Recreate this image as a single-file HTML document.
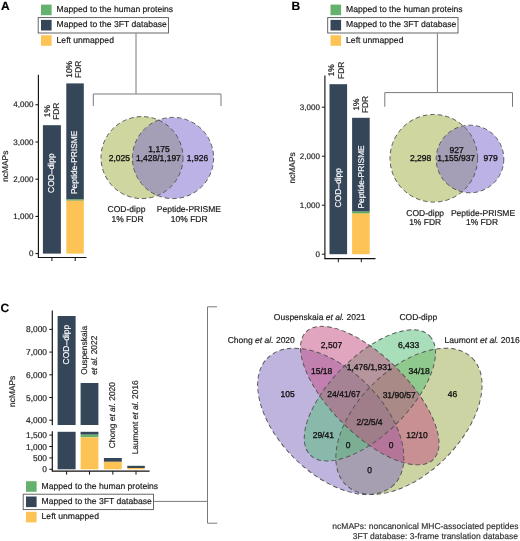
<!DOCTYPE html>
<html><head><meta charset="utf-8"><style>
html,body{margin:0;padding:0;background:#fff;}
body{width:520px;height:541px;overflow:hidden;}
svg{display:block;font-family:"Liberation Sans", sans-serif;text-rendering:geometricPrecision;filter:blur(0.3px);}

</style></head><body>
<svg width="520" height="541" viewBox="0 0 520 541">
<rect x="0" y="0" width="520" height="541" fill="#fff"/>
<text x="1" y="9.6" font-size="12" text-anchor="start" fill="#000" stroke="#000" stroke-width="0.18" font-weight="bold">A</text>
<text x="291.4" y="9.6" font-size="12" text-anchor="start" fill="#000" stroke="#000" stroke-width="0.18" font-weight="bold">B</text>
<text x="0.6" y="312.2" font-size="12" text-anchor="start" fill="#000" stroke="#000" stroke-width="0.18" font-weight="bold">C</text>
<rect x="41" y="4.6" width="10.6" height="10.6" fill="#64b26e"/>
<text x="56.6" y="12.149999999999999" font-size="8.6" text-anchor="start" fill="#1a1a1a" stroke="#1a1a1a" stroke-width="0.18" font-weight="normal">Mapped to the human proteins</text>
<rect x="41" y="19.9" width="10.6" height="10.6" fill="#344658"/>
<text x="56.6" y="27.45" font-size="8.6" text-anchor="start" fill="#1a1a1a" stroke="#1a1a1a" stroke-width="0.18" font-weight="normal">Mapped to the 3FT database</text>
<rect x="41" y="35.2" width="10.6" height="10.6" fill="#fdc455"/>
<text x="56.6" y="42.75" font-size="8.6" text-anchor="start" fill="#1a1a1a" stroke="#1a1a1a" stroke-width="0.18" font-weight="normal">Left unmapped</text>
<rect x="38.2" y="17.6" width="130.3" height="15.4" fill="none" stroke="#555" stroke-width="0.9"/>
<rect x="330.5" y="4.6" width="10.6" height="10.6" fill="#64b26e"/>
<text x="346.1" y="12.149999999999999" font-size="8.6" text-anchor="start" fill="#1a1a1a" stroke="#1a1a1a" stroke-width="0.18" font-weight="normal">Mapped to the human proteins</text>
<rect x="330.5" y="19.9" width="10.6" height="10.6" fill="#344658"/>
<text x="346.1" y="27.45" font-size="8.6" text-anchor="start" fill="#1a1a1a" stroke="#1a1a1a" stroke-width="0.18" font-weight="normal">Mapped to the 3FT database</text>
<rect x="330.5" y="35.2" width="10.6" height="10.6" fill="#fdc455"/>
<text x="346.1" y="42.75" font-size="8.6" text-anchor="start" fill="#1a1a1a" stroke="#1a1a1a" stroke-width="0.18" font-weight="normal">Left unmapped</text>
<rect x="327.7" y="17.6" width="130.3" height="15.4" fill="none" stroke="#555" stroke-width="0.9"/>
<rect x="26" y="481.2" width="10.6" height="10.6" fill="#64b26e"/>
<text x="41.6" y="488.75" font-size="8.6" text-anchor="start" fill="#1a1a1a" stroke="#1a1a1a" stroke-width="0.18" font-weight="normal">Mapped to the human proteins</text>
<rect x="26" y="496.5" width="10.6" height="10.6" fill="#344658"/>
<text x="41.6" y="504.05" font-size="8.6" text-anchor="start" fill="#1a1a1a" stroke="#1a1a1a" stroke-width="0.18" font-weight="normal">Mapped to the 3FT database</text>
<rect x="26" y="511.8" width="10.6" height="10.6" fill="#fdc455"/>
<text x="41.6" y="519.35" font-size="8.6" text-anchor="start" fill="#1a1a1a" stroke="#1a1a1a" stroke-width="0.18" font-weight="normal">Left unmapped</text>
<rect x="23.2" y="494.2" width="130.3" height="15.4" fill="none" stroke="#555" stroke-width="0.9"/>
<line x1="136" y1="33.5" x2="136" y2="94" stroke="#7a7a7a" stroke-width="1"/>
<polyline points="93.3,106 93.3,94 221,94 221,106" fill="none" stroke="#7a7a7a" stroke-width="1"/>
<line x1="437.4" y1="33.5" x2="437.4" y2="92.6" stroke="#7a7a7a" stroke-width="1"/>
<polyline points="384.8,106.8 384.8,92.6 512.5,92.6 512.5,106.8" fill="none" stroke="#7a7a7a" stroke-width="1"/>
<line x1="154" y1="501.4" x2="207.5" y2="501.4" stroke="#7a7a7a" stroke-width="1"/>
<polyline points="217,306.8 207.5,306.8 207.5,523.2 217.3,523.2" fill="none" stroke="#7a7a7a" stroke-width="1"/>
<line x1="38.4" y1="74.7" x2="38.4" y2="257.5" stroke="#111" stroke-width="1.15"/>
<line x1="37.9" y1="257.5" x2="86.5" y2="257.5" stroke="#111" stroke-width="1.2"/>
<line x1="35.4" y1="253.6" x2="38.4" y2="253.6" stroke="#111" stroke-width="1"/>
<text x="33.4" y="256.1" font-size="8.0" text-anchor="end" fill="#222" stroke="#222" stroke-width="0.18" font-weight="normal">0</text>
<line x1="35.4" y1="216.4" x2="38.4" y2="216.4" stroke="#111" stroke-width="1"/>
<text x="33.4" y="218.9" font-size="8.0" text-anchor="end" fill="#222" stroke="#222" stroke-width="0.18" font-weight="normal">1,000</text>
<line x1="35.4" y1="179.2" x2="38.4" y2="179.2" stroke="#111" stroke-width="1"/>
<text x="33.4" y="181.7" font-size="8.0" text-anchor="end" fill="#222" stroke="#222" stroke-width="0.18" font-weight="normal">2,000</text>
<line x1="35.4" y1="142.0" x2="38.4" y2="142.0" stroke="#111" stroke-width="1"/>
<text x="33.4" y="144.5" font-size="8.0" text-anchor="end" fill="#222" stroke="#222" stroke-width="0.18" font-weight="normal">3,000</text>
<line x1="35.4" y1="104.80000000000001" x2="38.4" y2="104.80000000000001" stroke="#111" stroke-width="1"/>
<text x="33.4" y="107.30000000000001" font-size="8.0" text-anchor="end" fill="#222" stroke="#222" stroke-width="0.18" font-weight="normal">4,000</text>
<line x1="51.9" y1="257.5" x2="51.9" y2="261.0" stroke="#111" stroke-width="1"/>
<line x1="75.2" y1="257.5" x2="75.2" y2="261.0" stroke="#111" stroke-width="1"/>
<rect x="42.9" y="125.2" width="18" height="128.39999999999998" fill="#344658"/>
<rect x="66.3" y="83.4" width="17.5" height="116.0" fill="#344658"/>
<rect x="66.3" y="199.4" width="17.5" height="1.3" fill="#5a9a58"/>
<rect x="66.3" y="200.7" width="17.5" height="52.900000000000006" fill="#fdc455"/>
<text x="8.2" y="166.2" font-size="8.4" text-anchor="middle" fill="#222" stroke="#222" stroke-width="0.18" font-weight="normal" transform="rotate(-90 8.2 166.2)">ncMAPs</text>
<text x="54.1" y="193" font-size="8.5" text-anchor="start" fill="#fff" stroke="#fff" stroke-width="0.18" font-weight="normal" transform="rotate(-90 54.1 193)">COD–dipp</text>
<text x="76.8" y="194" font-size="8.4" text-anchor="start" fill="#fff" stroke="#fff" stroke-width="0.18" font-weight="normal" transform="rotate(-90 76.8 194)">Peptide-PRISME</text>
<text x="49.825" y="111.2" font-size="8.4" text-anchor="middle" fill="#222" stroke="#222" stroke-width="0.18" font-weight="normal" transform="rotate(-90 49.825 111.2)">1%</text>
<text x="59.125" y="111.2" font-size="8.4" text-anchor="middle" fill="#222" stroke="#222" stroke-width="0.18" font-weight="normal" transform="rotate(-90 59.125 111.2)">FDR</text>
<text x="71.975" y="69.3" font-size="8.4" text-anchor="middle" fill="#222" stroke="#222" stroke-width="0.18" font-weight="normal" transform="rotate(-90 71.975 69.3)">10%</text>
<text x="81.275" y="69.3" font-size="8.4" text-anchor="middle" fill="#222" stroke="#222" stroke-width="0.18" font-weight="normal" transform="rotate(-90 81.275 69.3)">FDR</text>
<line x1="324.9" y1="75.4" x2="324.9" y2="258.7" stroke="#111" stroke-width="1.15"/>
<line x1="324.4" y1="258.7" x2="375.5" y2="258.7" stroke="#111" stroke-width="1.2"/>
<line x1="321.9" y1="254.2" x2="324.9" y2="254.2" stroke="#111" stroke-width="1"/>
<text x="319.9" y="257.4" font-size="8.0" text-anchor="end" fill="#222" stroke="#222" stroke-width="0.18" font-weight="normal">0</text>
<line x1="321.9" y1="205.2" x2="324.9" y2="205.2" stroke="#111" stroke-width="1"/>
<text x="319.9" y="208.39999999999998" font-size="8.0" text-anchor="end" fill="#222" stroke="#222" stroke-width="0.18" font-weight="normal">1,000</text>
<line x1="321.9" y1="156.2" x2="324.9" y2="156.2" stroke="#111" stroke-width="1"/>
<text x="319.9" y="159.39999999999998" font-size="8.0" text-anchor="end" fill="#222" stroke="#222" stroke-width="0.18" font-weight="normal">2,000</text>
<line x1="321.9" y1="107.19999999999999" x2="324.9" y2="107.19999999999999" stroke="#111" stroke-width="1"/>
<text x="319.9" y="110.39999999999999" font-size="8.0" text-anchor="end" fill="#222" stroke="#222" stroke-width="0.18" font-weight="normal">3,000</text>
<line x1="338.3" y1="258.7" x2="338.3" y2="262.2" stroke="#111" stroke-width="1"/>
<line x1="361.3" y1="258.7" x2="361.3" y2="262.2" stroke="#111" stroke-width="1"/>
<rect x="329.5" y="84.2" width="17.6" height="170.0" fill="#344658"/>
<rect x="352.1" y="117.8" width="17.6" height="93.8" fill="#344658"/>
<rect x="352.1" y="211.6" width="17.6" height="2.0" fill="#5ea85a"/>
<rect x="352.1" y="213.6" width="17.6" height="40.599999999999994" fill="#fdc455"/>
<text x="294.6" y="167.9" font-size="8.4" text-anchor="middle" fill="#222" stroke="#222" stroke-width="0.18" font-weight="normal" transform="rotate(-90 294.6 167.9)">ncMAPs</text>
<text x="341.2" y="207.6" font-size="8.5" text-anchor="start" fill="#fff" stroke="#fff" stroke-width="0.18" font-weight="normal" transform="rotate(-90 341.2 207.6)">COD–dipp</text>
<text x="364.0" y="208.6" font-size="8.4" text-anchor="start" fill="#fff" stroke="#fff" stroke-width="0.18" font-weight="normal" transform="rotate(-90 364.0 208.6)">Peptide-PRISME</text>
<text x="334.375" y="70.3" font-size="8.4" text-anchor="middle" fill="#222" stroke="#222" stroke-width="0.18" font-weight="normal" transform="rotate(-90 334.375 70.3)">1%</text>
<text x="343.67499999999995" y="70.3" font-size="8.4" text-anchor="middle" fill="#222" stroke="#222" stroke-width="0.18" font-weight="normal" transform="rotate(-90 343.67499999999995 70.3)">FDR</text>
<text x="358.675" y="104.5" font-size="8.4" text-anchor="middle" fill="#222" stroke="#222" stroke-width="0.18" font-weight="normal" transform="rotate(-90 358.675 104.5)">1%</text>
<text x="367.97499999999997" y="104.5" font-size="8.4" text-anchor="middle" fill="#222" stroke="#222" stroke-width="0.18" font-weight="normal" transform="rotate(-90 367.97499999999997 104.5)">FDR</text>
<line x1="52.3" y1="310.4" x2="52.3" y2="425.3" stroke="#111" stroke-width="1.15"/>
<line x1="52.3" y1="431.3" x2="52.3" y2="471.2" stroke="#111" stroke-width="1.15"/>
<line x1="51.8" y1="471.2" x2="149.6" y2="471.2" stroke="#111" stroke-width="1.2"/>
<line x1="49.3" y1="420.2" x2="52.3" y2="420.2" stroke="#111" stroke-width="1"/>
<text x="47.0" y="423.2" font-size="8.4" text-anchor="end" fill="#222" stroke="#222" stroke-width="0.18" font-weight="normal">4,000</text>
<line x1="49.3" y1="397.5" x2="52.3" y2="397.5" stroke="#111" stroke-width="1"/>
<text x="47.0" y="400.5" font-size="8.4" text-anchor="end" fill="#222" stroke="#222" stroke-width="0.18" font-weight="normal">5,000</text>
<line x1="49.3" y1="374.79999999999995" x2="52.3" y2="374.79999999999995" stroke="#111" stroke-width="1"/>
<text x="47.0" y="377.79999999999995" font-size="8.4" text-anchor="end" fill="#222" stroke="#222" stroke-width="0.18" font-weight="normal">6,000</text>
<line x1="49.3" y1="352.09999999999997" x2="52.3" y2="352.09999999999997" stroke="#111" stroke-width="1"/>
<text x="47.0" y="355.09999999999997" font-size="8.4" text-anchor="end" fill="#222" stroke="#222" stroke-width="0.18" font-weight="normal">7,000</text>
<line x1="49.3" y1="329.4" x2="52.3" y2="329.4" stroke="#111" stroke-width="1"/>
<text x="47.0" y="332.4" font-size="8.4" text-anchor="end" fill="#222" stroke="#222" stroke-width="0.18" font-weight="normal">8,000</text>
<line x1="49.3" y1="469.3" x2="52.3" y2="469.3" stroke="#111" stroke-width="1"/>
<text x="47.0" y="472.3" font-size="8.4" text-anchor="end" fill="#222" stroke="#222" stroke-width="0.18" font-weight="normal">0</text>
<line x1="49.3" y1="457.90000000000003" x2="52.3" y2="457.90000000000003" stroke="#111" stroke-width="1"/>
<text x="47.0" y="460.90000000000003" font-size="8.4" text-anchor="end" fill="#222" stroke="#222" stroke-width="0.18" font-weight="normal">500</text>
<line x1="49.3" y1="446.5" x2="52.3" y2="446.5" stroke="#111" stroke-width="1"/>
<text x="47.0" y="449.5" font-size="8.4" text-anchor="end" fill="#222" stroke="#222" stroke-width="0.18" font-weight="normal">1,000</text>
<line x1="49.3" y1="435.1" x2="52.3" y2="435.1" stroke="#111" stroke-width="1"/>
<text x="47.0" y="438.1" font-size="8.4" text-anchor="end" fill="#222" stroke="#222" stroke-width="0.18" font-weight="normal">1,500</text>
<line x1="66.6" y1="471.2" x2="66.6" y2="474.6" stroke="#111" stroke-width="1"/>
<line x1="89.5" y1="471.2" x2="89.5" y2="474.6" stroke="#111" stroke-width="1"/>
<line x1="112.85" y1="471.2" x2="112.85" y2="474.6" stroke="#111" stroke-width="1"/>
<line x1="136" y1="471.2" x2="136" y2="474.6" stroke="#111" stroke-width="1"/>
<rect x="57.6" y="316" width="18" height="109" fill="#344658"/>
<rect x="57.6" y="431.8" width="18" height="37.5" fill="#344658"/>
<rect x="80.6" y="383" width="17.8" height="42" fill="#344658"/>
<rect x="80.6" y="431.8" width="17.8" height="2.9" fill="#344658"/>
<rect x="80.6" y="434.7" width="17.8" height="2.6" fill="#64b26e"/>
<rect x="80.6" y="437.3" width="17.8" height="32.0" fill="#fdc455"/>
<rect x="103.9" y="458" width="17.9" height="3.8" fill="#344658"/>
<rect x="103.9" y="461.8" width="17.9" height="7.5" fill="#fdc455"/>
<rect x="127.3" y="465.8" width="17.5" height="2.2" fill="#344658"/>
<rect x="127.3" y="468" width="17.5" height="1.3000000000000114" fill="#fdc455"/>
<text x="15.2" y="391.3" font-size="8.4" text-anchor="middle" fill="#222" stroke="#222" stroke-width="0.18" font-weight="normal" transform="rotate(-90 15.2 391.3)">ncMAPs</text>
<text x="69.3" y="364.4" font-size="8.5" text-anchor="start" fill="#fff" stroke="#fff" stroke-width="0.18" font-weight="normal" transform="rotate(-90 69.3 364.4)">COD–dipp</text>
<text x="86.8" y="374.8" font-size="8.4" text-anchor="start" fill="#222" stroke="#222" stroke-width="0.18" font-weight="normal" transform="rotate(-90 86.8 374.8)">Ouspenskaia</text>
<text x="96.8" y="374.8" font-size="8.4" text-anchor="start" fill="#222" stroke="#222" stroke-width="0.18" font-weight="normal" transform="rotate(-90 96.8 374.8)"><tspan font-style="italic">et al.</tspan> 2022</text>
<text x="114.6" y="448.2" font-size="8.4" text-anchor="start" fill="#222" stroke="#222" stroke-width="0.18" font-weight="normal" transform="rotate(-90 114.6 448.2)">Chong <tspan font-style="italic">et al.</tspan> 2020</text>
<text x="138.0" y="454.3" font-size="8.4" text-anchor="start" fill="#222" stroke="#222" stroke-width="0.18" font-weight="normal" transform="rotate(-90 138.0 454.3)">Laumont <tspan font-style="italic">et al.</tspan> 2016</text>
<circle cx="142" cy="157.6" r="41" fill="#a0ae42" fill-opacity="0.5"/>
<circle cx="173" cy="158" r="40.6" fill="#7a66cc" fill-opacity="0.5"/>
<circle cx="142" cy="157.6" r="41" fill="none" stroke="#555" stroke-width="0.95" stroke-dasharray="4.5,3"/>
<circle cx="173" cy="158" r="40.6" fill="none" stroke="#555" stroke-width="0.95" stroke-dasharray="4.5,3"/>
<text x="119.4" y="160.7" font-size="8.5" text-anchor="middle" fill="#111" stroke="#111" stroke-width="0.32" font-weight="normal">2,025</text>
<text x="159" y="152.0" font-size="8.5" text-anchor="middle" fill="#111" stroke="#111" stroke-width="0.32" font-weight="normal">1,175</text>
<text x="158.4" y="160.7" font-size="8.5" text-anchor="middle" fill="#111" stroke="#111" stroke-width="0.32" font-weight="normal">1,428/1,197</text>
<text x="197.5" y="160.7" font-size="8.5" text-anchor="middle" fill="#111" stroke="#111" stroke-width="0.32" font-weight="normal">1,926</text>
<text x="126.5" y="211.6" font-size="8.5" text-anchor="middle" fill="#1a1a1a" stroke="#1a1a1a" stroke-width="0.18" font-weight="normal">COD-dipp</text>
<text x="127.5" y="222.2" font-size="8.5" text-anchor="middle" fill="#1a1a1a" stroke="#1a1a1a" stroke-width="0.18" font-weight="normal">1% FDR</text>
<text x="188.9" y="211.6" font-size="8.5" text-anchor="middle" fill="#1a1a1a" stroke="#1a1a1a" stroke-width="0.18" font-weight="normal">Peptide-PRISME</text>
<text x="189.2" y="222" font-size="8.5" text-anchor="middle" fill="#1a1a1a" stroke="#1a1a1a" stroke-width="0.18" font-weight="normal">10% FDR</text>
<circle cx="433.8" cy="158.3" r="43.8" fill="#a0ae42" fill-opacity="0.5"/>
<circle cx="470" cy="159" r="33.8" fill="#7a66cc" fill-opacity="0.5"/>
<circle cx="433.8" cy="158.3" r="43.8" fill="none" stroke="#555" stroke-width="0.95" stroke-dasharray="4.5,3"/>
<circle cx="470" cy="159" r="33.8" fill="none" stroke="#555" stroke-width="0.95" stroke-dasharray="4.5,3"/>
<text x="420.6" y="160.7" font-size="8.5" text-anchor="middle" fill="#111" stroke="#111" stroke-width="0.32" font-weight="normal">2,298</text>
<text x="456.6" y="152.7" font-size="8.5" text-anchor="middle" fill="#111" stroke="#111" stroke-width="0.32" font-weight="normal">927</text>
<text x="456.2" y="160.7" font-size="8.5" text-anchor="middle" fill="#111" stroke="#111" stroke-width="0.32" font-weight="normal">1,155/937</text>
<text x="490.6" y="160.7" font-size="8.5" text-anchor="middle" fill="#111" stroke="#111" stroke-width="0.32" font-weight="normal">979</text>
<text x="425.2" y="215.5" font-size="8.5" text-anchor="middle" fill="#1a1a1a" stroke="#1a1a1a" stroke-width="0.18" font-weight="normal">COD-dipp</text>
<text x="425.2" y="225" font-size="8.5" text-anchor="middle" fill="#1a1a1a" stroke="#1a1a1a" stroke-width="0.18" font-weight="normal">1% FDR</text>
<text x="483" y="215.5" font-size="8.5" text-anchor="middle" fill="#1a1a1a" stroke="#1a1a1a" stroke-width="0.18" font-weight="normal">Peptide-PRISME</text>
<text x="482" y="225" font-size="8.5" text-anchor="middle" fill="#1a1a1a" stroke="#1a1a1a" stroke-width="0.18" font-weight="normal">1% FDR</text>
<ellipse cx="408.95" cy="421.35" rx="89.5" ry="51.8" transform="rotate(-45 408.95 421.35)" fill="#9ba949" fill-opacity="0.5"/>
<ellipse cx="330.75" cy="421.35" rx="89.5" ry="51.8" transform="rotate(45 330.75 421.35)" fill="#7d69bd" fill-opacity="0.5"/>
<ellipse cx="369.9" cy="395.4" rx="84.3" ry="38.8" transform="rotate(-45 369.9 395.4)" fill="#51bd75" fill-opacity="0.5"/>
<ellipse cx="369.75" cy="395.6" rx="90.1" ry="38.5" transform="rotate(45 369.75 395.6)" fill="#c34b80" fill-opacity="0.5"/>
<ellipse cx="408.95" cy="421.35" rx="89.5" ry="51.8" transform="rotate(-45 408.95 421.35)" fill="none" stroke="#555" stroke-width="0.95" stroke-dasharray="4.5,3"/>
<ellipse cx="330.75" cy="421.35" rx="89.5" ry="51.8" transform="rotate(45 330.75 421.35)" fill="none" stroke="#555" stroke-width="0.95" stroke-dasharray="4.5,3"/>
<ellipse cx="369.9" cy="395.4" rx="84.3" ry="38.8" transform="rotate(-45 369.9 395.4)" fill="none" stroke="#555" stroke-width="0.95" stroke-dasharray="4.5,3"/>
<ellipse cx="369.75" cy="395.6" rx="90.1" ry="38.5" transform="rotate(45 369.75 395.6)" fill="none" stroke="#555" stroke-width="0.95" stroke-dasharray="4.5,3"/>
<text x="287.6" y="396.90000000000003" font-size="8.5" text-anchor="middle" fill="#111" stroke="#111" stroke-width="0.32" font-weight="normal">105</text>
<text x="331.5" y="347.5" font-size="8.5" text-anchor="middle" fill="#111" stroke="#111" stroke-width="0.32" font-weight="normal">2,507</text>
<text x="321.6" y="373.6" font-size="8.5" text-anchor="middle" fill="#111" stroke="#111" stroke-width="0.32" font-weight="normal">15/18</text>
<text x="343.9" y="397.1" font-size="8.5" text-anchor="middle" fill="#111" stroke="#111" stroke-width="0.32" font-weight="normal">24/41/67</text>
<text x="369.2" y="369.5" font-size="8.5" text-anchor="middle" fill="#111" stroke="#111" stroke-width="0.32" font-weight="normal">1,476/1,931</text>
<text x="408.6" y="347.7" font-size="8.5" text-anchor="middle" fill="#111" stroke="#111" stroke-width="0.32" font-weight="normal">6,433</text>
<text x="419.2" y="373.6" font-size="8.5" text-anchor="middle" fill="#111" stroke="#111" stroke-width="0.32" font-weight="normal">34/18</text>
<text x="399.2" y="398.3" font-size="8.5" text-anchor="middle" fill="#111" stroke="#111" stroke-width="0.32" font-weight="normal">31/90/57</text>
<text x="452.6" y="396.7" font-size="8.5" text-anchor="middle" fill="#111" stroke="#111" stroke-width="0.32" font-weight="normal">46</text>
<text x="369.6" y="424.8" font-size="8.5" text-anchor="middle" fill="#111" stroke="#111" stroke-width="0.32" font-weight="normal">2/2/5/4</text>
<text x="323.3" y="437.5" font-size="8.5" text-anchor="middle" fill="#111" stroke="#111" stroke-width="0.32" font-weight="normal">29/41</text>
<text x="348" y="447.90000000000003" font-size="8.5" text-anchor="middle" fill="#111" stroke="#111" stroke-width="0.32" font-weight="normal">0</text>
<text x="391.2" y="447.90000000000003" font-size="8.5" text-anchor="middle" fill="#111" stroke="#111" stroke-width="0.32" font-weight="normal">0</text>
<text x="369.7" y="472.8" font-size="8.5" text-anchor="middle" fill="#111" stroke="#111" stroke-width="0.32" font-weight="normal">0</text>
<text x="417" y="437.5" font-size="8.5" text-anchor="middle" fill="#111" stroke="#111" stroke-width="0.32" font-weight="normal">12/10</text>
<text x="227.7" y="342.5" font-size="8.5" text-anchor="start" fill="#1a1a1a" stroke="#1a1a1a" stroke-width="0.18" font-weight="normal">Chong <tspan font-style="italic">et al.</tspan> 2020</text>
<text x="273.8" y="320" font-size="8.5" text-anchor="start" fill="#1a1a1a" stroke="#1a1a1a" stroke-width="0.18" font-weight="normal">Ouspenskaia <tspan font-style="italic">et al.</tspan> 2021</text>
<text x="418.3" y="320" font-size="8.5" text-anchor="middle" fill="#1a1a1a" stroke="#1a1a1a" stroke-width="0.18" font-weight="normal">COD-dipp</text>
<text x="444.6" y="342.5" font-size="8.5" text-anchor="start" fill="#1a1a1a" stroke="#1a1a1a" stroke-width="0.18" font-weight="normal">Laumont <tspan font-style="italic">et al.</tspan> 2016</text>
<text x="518.5" y="529.4" font-size="8.5" text-anchor="end" fill="#333" stroke="#333" stroke-width="0.18" font-weight="normal">ncMAPs: noncanonical MHC-associated peptides</text>
<text x="518" y="538.7" font-size="8.5" text-anchor="end" fill="#333" stroke="#333" stroke-width="0.18" font-weight="normal">3FT database: 3-frame translation database</text>
</svg>
</body></html>
